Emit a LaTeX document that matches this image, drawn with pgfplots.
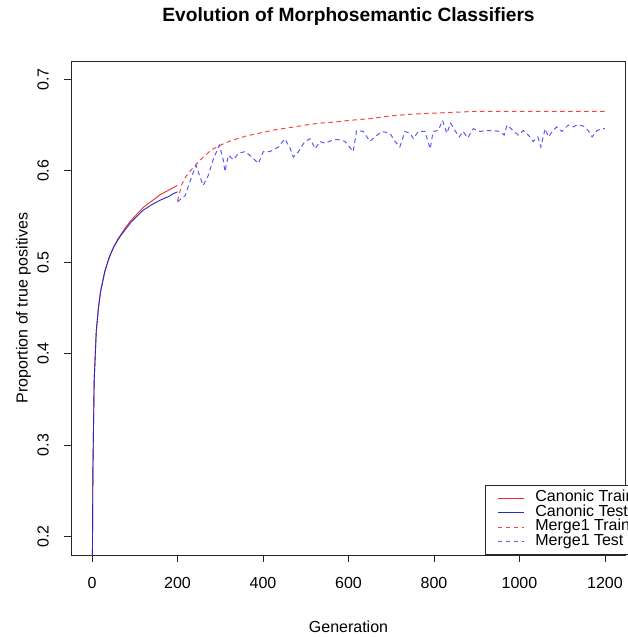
\documentclass[border=0pt]{standalone}
\usepackage{fontspec}
\setmainfont{Liberation Sans}
\usepackage{pgfplots}
\pgfplotsset{compat=1.18}
\usetikzlibrary{calc}
\definecolor{cred}{RGB}{235,45,45}
\definecolor{cblue}{RGB}{40,40,205}
\definecolor{mred}{RGB}{240,70,70}
\definecolor{mblue}{RGB}{90,90,250}
\begin{document}
\begin{tikzpicture}
\begin{axis}[
  name=ax,
  scale only axis, width=554pt, height=494pt,
  xmin=-48, xmax=1248, ymin=0.18, ymax=0.72,
  axis line style={line width=0.8pt, black!85},
  xtick={0,200,...,1200}, ytick={0.2,0.3,0.4,0.5,0.6,0.7},
  xtick pos=bottom, ytick pos=left,
  tick align=outside, major tick length=7pt,
  tick style={line width=0.8pt, black!85},
  minor tick num=0,
  scaled ticks=false,
  /pgf/number format/assume math mode=true,
  yticklabel shift=15.5pt,
  xticklabel shift=15pt,
  yticklabel style={rotate=90, anchor=south, inner sep=0pt, font=\fontsize{16}{16}\selectfont,
    /pgf/number format/fixed, /pgf/number format/precision=1, /pgf/number format/fixed zerofill},
  xticklabel style={anchor=north, inner sep=0pt, font=\fontsize{16}{16}\selectfont,
    /pgf/number format/1000 sep={}},
  title={Evolution of Morphosemantic Classifiers},
  title style={at={(axis description cs:0.5,1.0668)}, anchor=base, inner sep=0pt,
    font=\bfseries\fontsize{19.2}{19.2}\selectfont},
  xlabel={Generation},
  xlabel style={at={(axis description cs:0.5,-0.1574)}, anchor=base, inner sep=0pt,
    font=\fontsize{16}{16}\selectfont},
  ylabel={Proportion of true positives},
  ylabel style={at={(axis description cs:-0.0794,0.5)}, anchor=base, inner sep=0pt,
    font=\fontsize{16}{16}\selectfont},
  legend cell align=left,
  legend style={at={(rel axis cs:0.7464,0)}, anchor=south west, draw=black!85,
    line width=0.8pt, fill=white, font=\fontsize{16}{16}\selectfont,
    inner xsep=12pt, inner ysep=5.5pt, row sep=0pt, column sep=0pt,
    nodes={inner sep=0pt, text height=10.5pt, text depth=4pt}},
  legend image code/.code={\draw[#1] (0pt,0pt) -- (26pt,0pt); \path (37pt,0pt);},
]
\addplot[cred, line width=0.9pt] coordinates {
(0,0.10) (2,0.27) (5,0.37) (10,0.425) (15,0.450) (20,0.468) (30,0.490) (40,0.505)
(50,0.516) (60,0.525) (70,0.532) (80,0.539) (90,0.545) (100,0.550) (120,0.560)
(140,0.567) (160,0.574) (180,0.579) (200,0.584)};
\addlegendentry{Canonic Train}
\addplot[cblue, line width=0.9pt] coordinates {
(0,0.10) (2,0.27) (5,0.37) (10,0.425) (15,0.450) (20,0.468) (30,0.490) (40,0.505)
(50,0.516) (60,0.524) (70,0.531) (80,0.537) (90,0.543) (100,0.548) (120,0.557)
(140,0.563) (160,0.568) (180,0.572) (190,0.575) (200,0.577)};
\addlegendentry{Canonic Test}
\addplot[mred, line width=1pt, dash pattern=on 4.5pt off 3.5pt] coordinates {
(200,0.567) (210,0.585) (220,0.594) (230,0.600) (240,0.605) (250,0.610) (260,0.615)
(280,0.623) (300,0.628) (320,0.632) (340,0.635) (360,0.638) (380,0.640) (400,0.642)
(430,0.645) (460,0.647) (500,0.650) (530,0.652) (560,0.653) (600,0.655) (650,0.657)
(700,0.660) (750,0.662) (800,0.663) (850,0.664) (900,0.665) (1000,0.665) (1100,0.665)
(1200,0.665)};
\addlegendentry{Merge1 Train}
\addplot[mblue, line width=1pt, dash pattern=on 4.5pt off 3.5pt] coordinates {
(200,0.566) (210,0.570) (218,0.573) (229,0.588) (243,0.606) (260,0.584) (272,0.595)
(284,0.613) (298,0.628) (307,0.612) (311,0.599) (319,0.617) (331,0.612) (342,0.619)
(358,0.621) (374,0.615) (389,0.608) (401,0.621) (416,0.621) (436,0.626) (451,0.635)
(463,0.625) (471,0.615) (483,0.621) (498,0.632) (510,0.635) (522,0.624) (533,0.632)
(545,0.630) (565,0.634) (580,0.634) (592,0.632) (611,0.621) (619,0.644) (635,0.643)
(650,0.632) (662,0.637) (678,0.643) (697,0.641) (709,0.632) (720,0.626) (732,0.643)
(744,0.641) (752,0.635) (763,0.643) (779,0.643) (791,0.624) (798,0.643) (810,0.644)
(820,0.655) (830,0.641) (839,0.652) (849,0.644) (859,0.637) (868,0.643) (879,0.636)
(892,0.646) (908,0.643) (923,0.644) (939,0.644) (954,0.643) (964,0.639) (971,0.650)
(985,0.644) (997,0.639) (1009,0.644) (1025,0.637) (1032,0.632) (1043,0.637) (1050,0.626)
(1060,0.646) (1068,0.637) (1077,0.643) (1087,0.648) (1099,0.643) (1114,0.650) (1126,0.648)
(1134,0.650) (1149,0.649) (1161,0.644) (1170,0.637) (1181,0.644) (1194,0.646) (1200,0.646)};
\addlegendentry{Merge1 Test}
\end{axis}
\pgfresetboundingbox
\path[use as bounding box] ($(ax.south west)+(-71.5pt,-82pt)$) rectangle ($(ax.north east)+(1.5pt,61pt)$);
\end{tikzpicture}
\end{document}
